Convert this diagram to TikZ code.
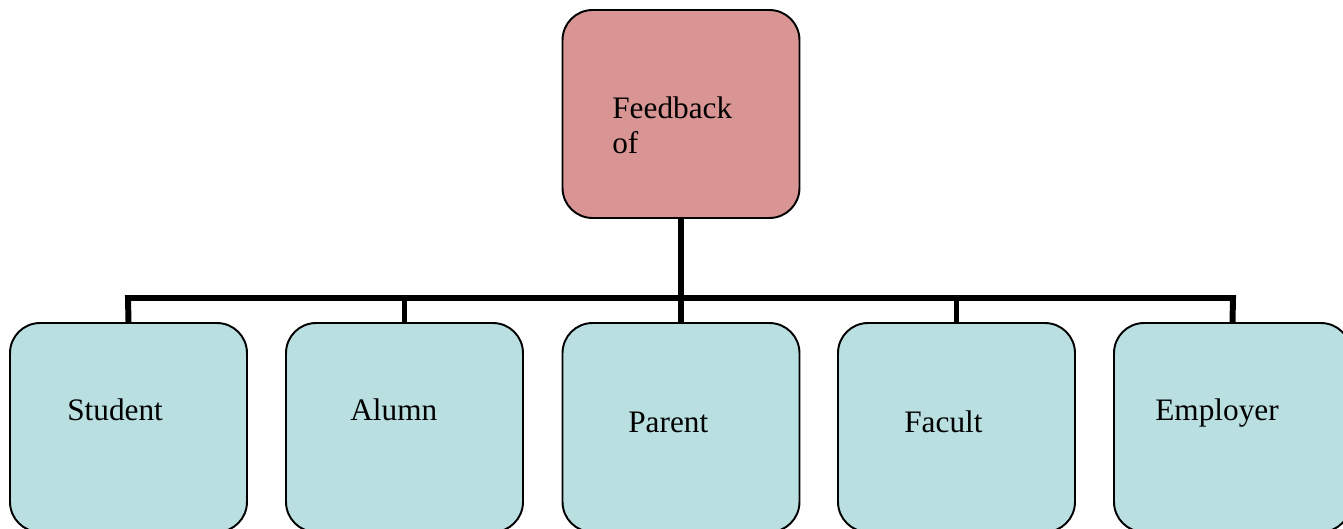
\documentclass[tikz,border=0pt]{standalone}
\usepackage{fontspec}
\setmainfont{Liberation Serif}
\definecolor{fbpink}{RGB}{217,149,148}
\definecolor{fbteal}{RGB}{185,223,224}
\tikzset{
  box/.style={draw, line width=1.1pt, rounded corners=0.6cm, minimum width=4.74cm, inner sep=0pt},
  topbox/.style={box, fill=fbpink, minimum height=4.16cm},
  subbox/.style={box, fill=fbteal, minimum height=4.18cm},
  label/.style={anchor=base west, inner sep=0pt, font=\fontsize{17.8}{20}\selectfont},
  wire/.style={line width=3.4pt, line join=miter}
}
\begin{document}
\begin{tikzpicture}[x=0.02cm, y=-0.02cm]
\useasboundingbox (0,0) rectangle (1343,528);
\clip (0,0) rectangle (1343,528);
\coordinate (H1) at (128,298);
\coordinate (H5) at (1233,298);

\node[topbox] (T) at (681,114) {};
\node[subbox] (S) at (128.5,427.5) {};
\node[subbox] (A) at (404.5,427.5) {};
\node[subbox] (P) at (681,427.5) {};
\node[subbox] (F) at (956.5,427.5) {};
\node[subbox] (E) at (1232.5,427.5) {};

\node[label] (Tl1) at (612,118) {Feedback};
\node[label] (Tl2) at (612,153) {of};
\node[label] (Sl) at (67,420) {Student};
\node[label] (Al) at (350,420) {Alumn};
\node[label] (Pl) at (628,432) {Parent};
\node[label] (Fl) at (904,432) {Facult};
\node[label] (El) at (1155,420) {Employer};

\draw[wire] (T.south) -- (T.south |- H1);
\draw[wire] (S.north) -- (H1) -- (H5) -- (E.north);
\draw[wire] (A.north) -- (A.north |- H1);
\draw[wire] (P.north) -- (P.north |- H1);
\draw[wire] (F.north) -- (F.north |- H1);

\end{tikzpicture}
\end{document}
